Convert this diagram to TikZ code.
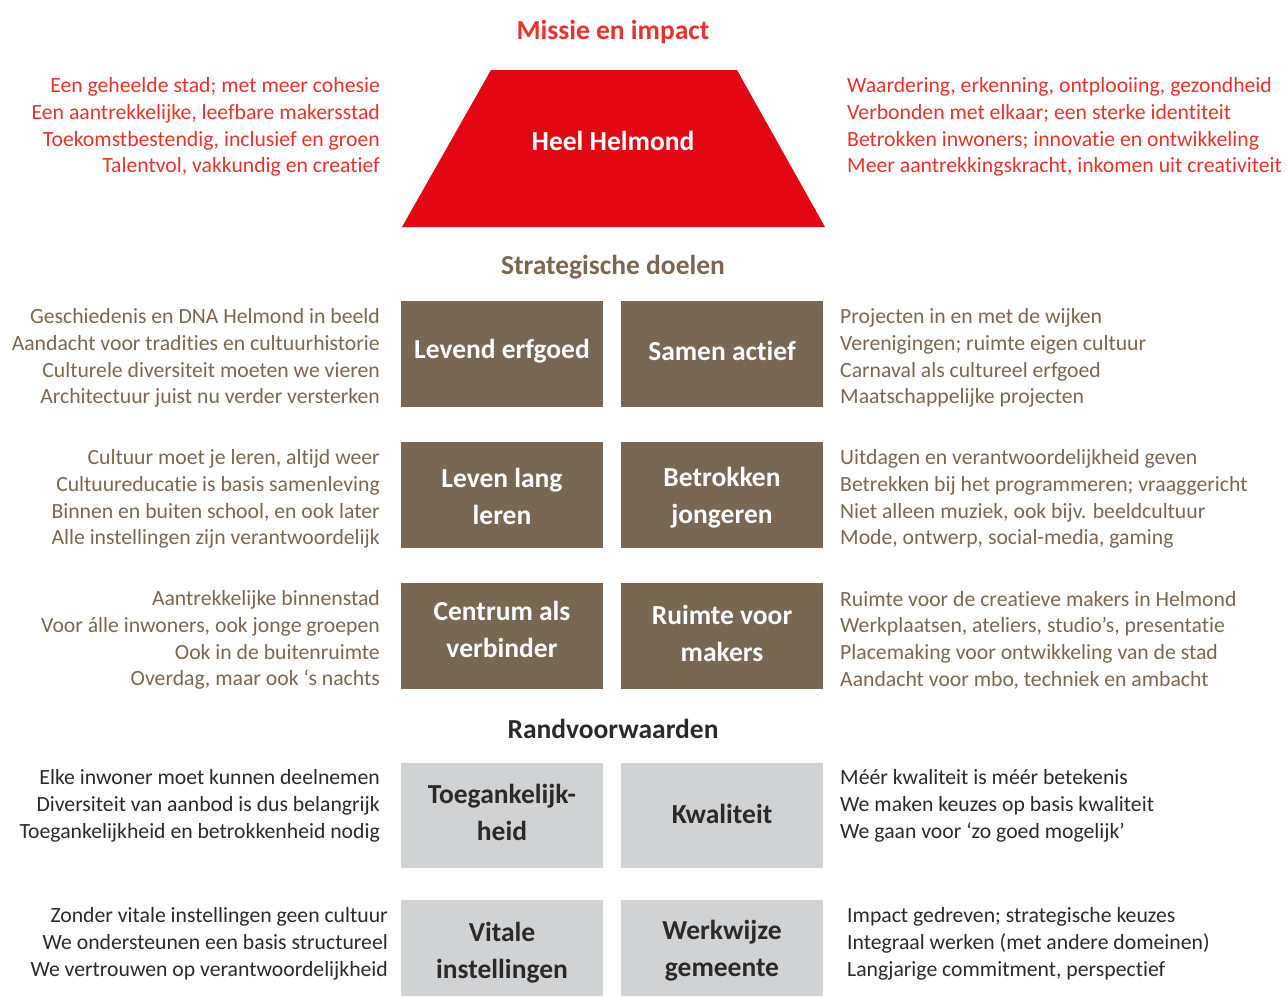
\documentclass[tikz,border=0pt]{standalone}
\usepackage{fontspec}
\setmainfont{Carlito}[Ligatures=NoCommon]
\usetikzlibrary{positioning}
\definecolor{missionred}{HTML}{E30613}
\definecolor{redtext}{HTML}{E8322B}
\definecolor{goalbrown}{HTML}{7A6752}
\definecolor{randgrey}{HTML}{D1D2D4}
\definecolor{darktext}{HTML}{2B2A29}
\tikzset{
  boxtext/.style={font=\fontsize{27.5}{37}\selectfont\bfseries, align=center},
  notesleft/.style={anchor=east, align=right, inner sep=0pt, font=\fontsize{21.7}{26.7}\selectfont},
  notesright/.style={anchor=west, align=left, inner sep=0pt, font=\fontsize{21.7}{26.7}\selectfont},
  heading/.style={font=\fontsize{27.5}{30}\selectfont\bfseries}
}
\begin{document}
\begin{tikzpicture}[x=1pt,y=-1pt]
			%%%%% START %%%%%
			\useasboundingbox (0,0) rectangle (1287,996);
			
			% mission
			\node[heading, text=redtext] (missie) at (613, 32) {Missie en impact};
			\fill[missionred] (491, 70) -- (737, 70) -- (825, 227) -- (402, 227) -- cycle;
			\node[boxtext, text=white] (helmond) at (613, 141) {Heel Helmond};
			\node[notesleft, text=redtext] (missieL) at (380, 127) {Een geheelde stad; met meer cohesie\\Een aantrekkelijke, leefbare makersstad\\Toekomstbestendig, inclusief en groen\\Talentvol, vakkundig en creatief};
			\node[notesright, text=redtext] (missieR) at (847, 127) {Waardering, erkenning, ontplooiing, gezondheid\\Verbonden met elkaar; een sterke identiteit\\Betrokken inwoners; innovatie en ontwikkeling\\Meer aantrekkingskracht, inkomen uit creativiteit};
			
			% strategic goals
			\node[heading, text=goalbrown] (doelen) at (613, 267) {Strategische doelen};
			
			\fill[goalbrown] (401, 301) rectangle (603, 407);
			\fill[goalbrown] (621, 301) rectangle (823, 407);
			\node[boxtext, text=white] (erfgoed) at (502, 351) {Levend erfgoed};
			\node[boxtext, text=white] (actief) at (722, 351) {Samen actief};
			\node[notesleft, text=goalbrown] (erfgoedL) at (380, 358) {Geschiedenis en DNA Helmond in beeld\\Aandacht voor tradities en cultuurhistorie\\Culturele diversiteit moeten we vieren\\Architectuur juist nu verder versterken};
			\node[notesright, text=goalbrown] (actiefR) at (840, 358) {Projecten in en met de wijken\\Verenigingen; ruimte eigen cultuur\\Carnaval als cultureel erfgoed\\Maatschappelijke projecten};
			
			\fill[goalbrown] (401, 442) rectangle (603, 548);
			\fill[goalbrown] (621, 442) rectangle (823, 548);
			\node[boxtext, text=white] (leren) at (502, 496) {Leven lang\\leren};
			\node[boxtext, text=white] (jongeren) at (722, 498) {Betrokken\\jongeren};
			\node[notesleft, text=goalbrown] (lerenL) at (380, 499) {Cultuur moet je leren, altijd weer\\Cultuureducatie is basis samenleving\\Binnen en buiten school, en ook later\\Alle instellingen zijn verantwoordelijk};
			\node[notesright, text=goalbrown] (jongerenR) at (840, 499) {Uitdagen en verantwoordelijkheid geven\\Betrekken bij het programmeren; vraaggericht\\Niet alleen muziek, ook bijv. beeldcultuur\\Mode, ontwerp, social-media, gaming};
			
			\fill[goalbrown] (401, 583) rectangle (603, 689);
			\fill[goalbrown] (621, 583) rectangle (823, 689);
			\node[boxtext, text=white] (centrum) at (502, 629) {Centrum als\\verbinder};
			\node[boxtext, text=white] (makers) at (722, 633) {Ruimte voor\\makers};
			\node[notesleft, text=goalbrown] (centrumL) at (380, 640) {Aantrekkelijke binnenstad\\Voor álle inwoners, ook jonge groepen\\Ook in de buitenruimte\\Overdag, maar ook ‘s nachts};
			\node[notesright, text=goalbrown] (makersR) at (840, 640) {Ruimte voor de creatieve makers in Helmond\\Werkplaatsen, ateliers, studio’s, presentatie\\Placemaking voor ontwikkeling van de stad\\Aandacht voor mbo, techniek en ambacht};
			
			% preconditions
			\node[heading, text=darktext] (rand) at (613, 729) {Randvoorwaarden};
			
			\fill[randgrey] (401, 763) rectangle (603, 868);
			\fill[randgrey] (621, 763) rectangle (823, 868);
			\node[boxtext, text=darktext] (toegang) at (502, 812) {Toegankelijk-\\heid};
			\node[boxtext, text=darktext] (kwaliteit) at (722, 814) {Kwaliteit};
			\node[notesleft, text=darktext] (toegangL) at (380, 806) {Elke inwoner moet kunnen deelnemen\\Diversiteit van aanbod is dus belangrijk\\Toegankelijkheid en betrokkenheid nodig};
			\node[notesright, text=darktext] (kwaliteitR) at (840, 806) {Méér kwaliteit is méér betekenis\\We maken keuzes op basis kwaliteit\\We gaan voor ‘zo goed mogelijk’};
			
			\fill[randgrey] (401, 900) rectangle (603, 996);
			\fill[randgrey] (621, 900) rectangle (823, 996);
			\node[boxtext, text=darktext] (vitaal) at (502, 953) {Vitale\\instellingen};
			\node[boxtext, text=darktext] (werkwijze) at (722, 951) {Werkwijze\\gemeente};
			\node[notesleft, text=darktext] (vitaalL) at (388, 944) {Zonder vitale instellingen geen cultuur\\We ondersteunen een basis structureel\\We vertrouwen op verantwoordelijkheid};
			\node[notesright, text=darktext] (werkwijzeR) at (847, 944) {Impact gedreven; strategische keuzes\\Integraal werken (met andere domeinen)\\Langjarige commitment, perspectief};
			
			%%%%% END %%%%%
\end{tikzpicture}
\end{document}
